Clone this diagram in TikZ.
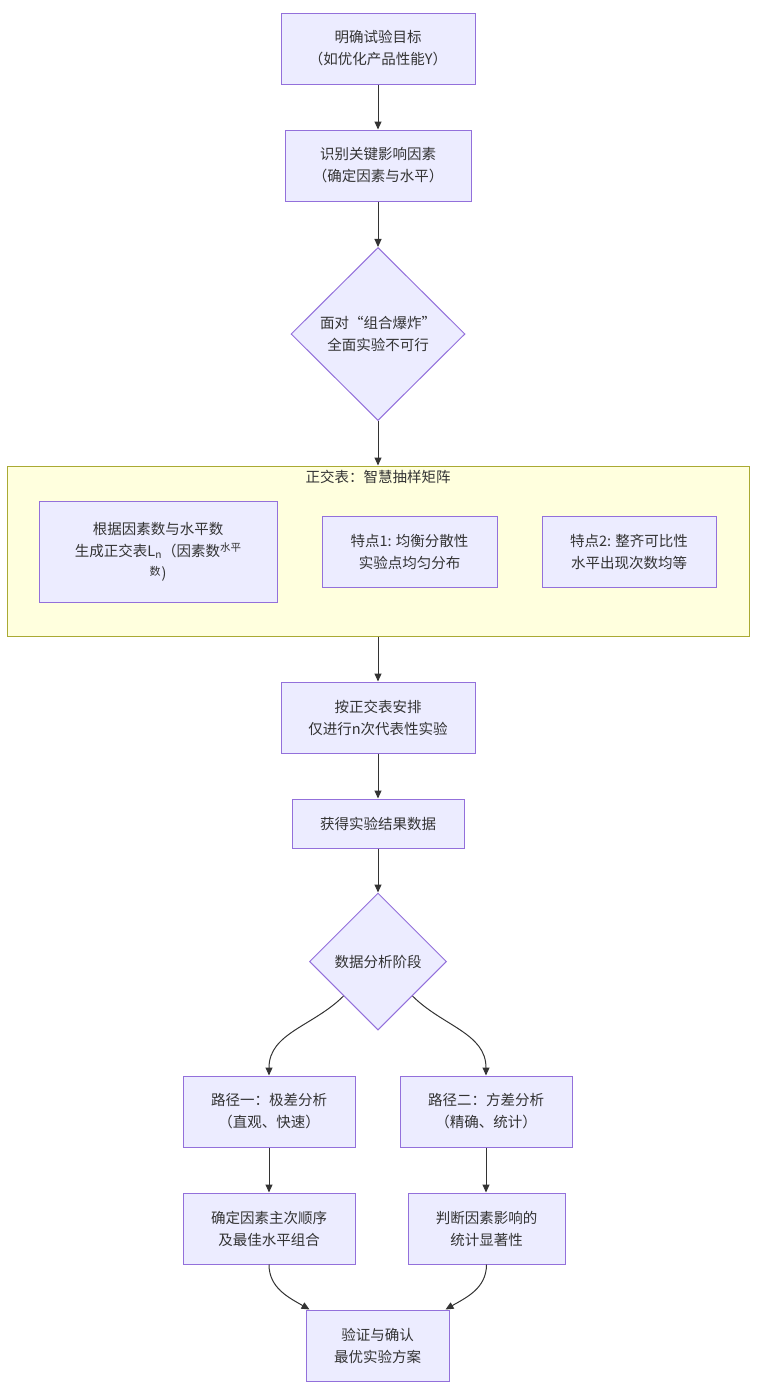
\documentclass[tikz,border=0pt]{standalone}
\usepackage{fontspec}
\setmainfont{Noto Sans CJK SC}
\usepackage{tikz}
\usetikzlibrary{shapes.geometric, arrows.meta}
\definecolor{nodefill}{HTML}{ECECFF}
\definecolor{nodeline}{HTML}{9370DB}
\definecolor{clusterfill}{HTML}{FFFFDE}
\definecolor{clusterline}{HTML}{AAAA33}
\definecolor{edgecol}{HTML}{333333}

\begin{document}
\begin{tikzpicture}[
    x=1pt, y=-1pt,
    >={Triangle[length=8pt, width=7pt]},
    every node/.style={text=edgecol, font=\fontsize{14.5}{22}\selectfont},
    block/.style={draw=nodeline, fill=nodefill, rectangle, line width=1pt, minimum height=71pt, align=center, inner sep=0pt},
    choice/.style={draw=nodeline, fill=nodefill, diamond, line width=1pt, align=center, inner sep=0pt},
    cluster/.style={draw=clusterline, fill=clusterfill, rectangle, line width=1pt, inner sep=0pt},
    link/.style={->, draw=edgecol, line width=1pt}
]
    \useasboundingbox (0,0) rectangle (756,1395);

    \node[cluster, minimum width=742pt, minimum height=170pt] (orth) at (378,551) {};
    \node (orthtitle) at (378,477) {正交表：智慧抽样矩阵};

    \node[block, minimum width=194pt] (goal) at (378,48.5) {明确试验目标\\（如优化产品性能Y）};
    \node[block, minimum width=186pt] (fac) at (378,165.5) {识别关键影响因素\\（确定因素与水平）};
    \node[choice, minimum width=174pt, minimum height=173pt] (boom) at (378,334) {面对“组合爆炸”\\全面实验不可行};

    \node[block, minimum width=238pt, minimum height=101pt] (gen) at (158,551.5)
        {根据因素数与水平数\\生成正交表L$_{\mathrm{n}}$（因素数\raisebox{5pt}{\fontsize{10.5}{10}\selectfont 水平}\\\raisebox{3pt}{\fontsize{11}{11}\selectfont 数}\hspace{1pt})\hspace{1pt}};
    \node[block, minimum width=175pt] (feat1) at (409.5,551.5) {特点1: 均衡分散性\\实验点均匀分布};
    \node[block, minimum width=174pt] (feat2) at (629,551.5) {特点2: 整齐可比性\\水平出现次数均等};

    \node[block, minimum width=194pt] (plan) at (378,717.5) {按正交表安排\\仅进行n次代表性实验};
    \node[block, minimum width=172pt, minimum height=49pt] (data) at (378,823.5) {获得实验结果数据};
    \node[choice, minimum width=137pt, minimum height=137pt] (ana) at (378,961.5) {数据分析阶段};

    \node[block, minimum width=172pt] (range) at (269,1111.5) {路径一：极差分析\\（直观、快速）};
    \node[block, minimum width=172pt] (var) at (486,1111.5) {路径二：方差分析\\（精确、统计）};
    \node[block, minimum width=172pt] (order) at (269,1228.5) {确定因素主次顺序\\及最佳水平组合};
    \node[block, minimum width=157pt] (sig) at (486.5,1228.5) {判断因素影响的\\统计显著性};
    \node[block, minimum width=143pt] (best) at (377.5,1345.5) {验证与确认\\最优实验方案};

    \draw[link] (goal) -- (fac);
    \draw[link] (fac) -- (boom);
    \draw[link] (boom) -- (orth.north -| boom);
    \draw[link] (orth.south -| plan) -- (plan);
    \draw[link] (plan) -- (data);
    \draw[link] (data) -- (ana);
    \draw[link] (ana.south west) to[out=-135, in=90] (range.north);
    \draw[link] (ana.south east) to[out=-45, in=90] (var.north);
    \draw[link] (range) -- (order);
    \draw[link] (var) -- (sig.north -| var);
    \draw[link] (order.south) to[out=-90, in=150] ([xshift=4pt]best.north west);
    \draw[link] (sig.south) to[out=-90, in=30] ([xshift=-4pt]best.north east);
\end{tikzpicture}
\end{document}
